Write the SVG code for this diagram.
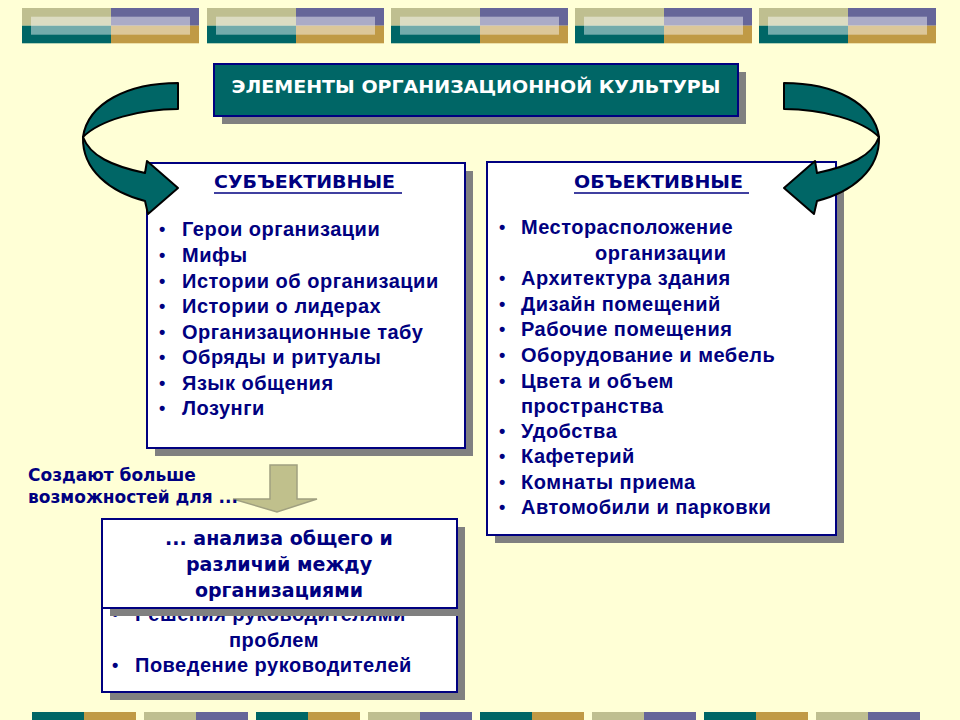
<svg xmlns="http://www.w3.org/2000/svg" width="960" height="720" viewBox="0 0 960 720">
<defs>
<style>
.item{font-family:"Liberation Sans",Arial,sans-serif;font-weight:bold;font-size:20px;letter-spacing:0.5px;fill:#000080}
.bul{font-family:"Liberation Sans",Arial,sans-serif;font-weight:bold;font-size:18px;fill:#000080}
.wide{font-family:"DejaVu Sans",Verdana,sans-serif;font-weight:bold;fill:#000080}
.box{fill:#fff;stroke:#000080;stroke-width:2}
.shadow{fill:#808080}
.ribbon{fill:#006666;stroke:#000;stroke-width:2;stroke-linejoin:round}
</style>
<g id="deco">
<rect x="0" y="0" width="89" height="17.7" fill="#BFBF90"/>
<rect x="89" y="0" width="88" height="17.7" fill="#666699"/>
<rect x="0" y="17.7" width="89" height="17.6" fill="#006666"/>
<rect x="89" y="17.7" width="88" height="17.6" fill="#C09A45"/>
<rect x="9" y="8.7" width="159" height="18" fill="#fff" fill-opacity="0.45"/>
</g>
<g id="arrowL">
<path class="ribbon" d="M178,83 C128,83 88,103 83,137 C100,120 140,109 178,109 Z"/>
<path class="ribbon" d="M83,137 C82,170 110,192 145,201 L148,214 L178,188 L147,161 L145,173 C112,166 90,156 83,137 Z"/>
</g>
</defs>
<rect x="0" y="0" width="960" height="720" fill="#FFFFD6"/>

<g id="top-decoration">
<use href="#deco" x="22" y="8"/>
<use href="#deco" x="207" y="8"/>
<use href="#deco" x="391" y="8"/>
<use href="#deco" x="575" y="8"/>
<use href="#deco" x="759" y="8"/>
</g>

<g id="bottom-decoration">
<rect x="32" y="712" width="52" height="8" fill="#006666"/><rect x="84" y="712" width="52" height="8" fill="#C09A45"/>
<rect x="144" y="712" width="52" height="8" fill="#BFBF90"/><rect x="196" y="712" width="52" height="8" fill="#666699"/>
<rect x="256" y="712" width="52" height="8" fill="#006666"/><rect x="308" y="712" width="52" height="8" fill="#C09A45"/>
<rect x="368" y="712" width="52" height="8" fill="#BFBF90"/><rect x="420" y="712" width="52" height="8" fill="#666699"/>
<rect x="480" y="712" width="52" height="8" fill="#006666"/><rect x="532" y="712" width="52" height="8" fill="#C09A45"/>
<rect x="592" y="712" width="52" height="8" fill="#BFBF90"/><rect x="644" y="712" width="52" height="8" fill="#666699"/>
<rect x="704" y="712" width="52" height="8" fill="#006666"/><rect x="756" y="712" width="52" height="8" fill="#C09A45"/>
<rect x="816" y="712" width="52" height="8" fill="#BFBF90"/><rect x="868" y="712" width="52" height="8" fill="#666699"/>
</g>

<g id="title">
<rect class="shadow" x="222" y="72" width="524" height="52"/>
<rect x="214" y="64" width="524" height="52" fill="#006666" stroke="#000080" stroke-width="2"/>
<text x="476" y="93" text-anchor="middle" font-family="DejaVu Sans, Verdana, sans-serif" font-weight="bold" font-size="18" fill="#fff" textLength="489" lengthAdjust="spacingAndGlyphs">ЭЛЕМЕНТЫ ОРГАНИЗАЦИОННОЙ КУЛЬТУРЫ</text>
</g>

<g id="subjective">
<rect class="shadow" x="155" y="171" width="318" height="285"/>
<rect class="box" x="147" y="163" width="318" height="285"/>
<text class="wide" x="214" y="188" font-size="17" textLength="181" lengthAdjust="spacingAndGlyphs">СУБЪЕКТИВНЫЕ</text>
<line x1="214" y1="193" x2="402" y2="193" stroke="#000080" stroke-width="1.5"/>
<g class="bul">
<text x="159" y="235">•</text><text x="159" y="261">•</text><text x="159" y="287">•</text><text x="159" y="312">•</text>
<text x="159" y="338">•</text><text x="159" y="363">•</text><text x="159" y="389">•</text><text x="159" y="414">•</text>
</g>
<g class="item">
<text x="182" y="236">Герои организации</text>
<text x="182" y="262">Мифы</text>
<text x="182" y="288">Истории об организации</text>
<text x="182" y="313">Истории о лидерах</text>
<text x="182" y="339">Организационные табу</text>
<text x="182" y="364">Обряды и ритуалы</text>
<text x="182" y="390">Язык общения</text>
<text x="182" y="415">Лозунги</text>
</g>
</g>

<g id="objective">
<rect class="shadow" x="495" y="170" width="349" height="373"/>
<rect class="box" x="487" y="162" width="349" height="373"/>
<text class="wide" x="574" y="188" font-size="17" textLength="169" lengthAdjust="spacingAndGlyphs">ОБЪЕКТИВНЫЕ</text>
<line x1="574" y1="193" x2="749" y2="193" stroke="#000080" stroke-width="1.5"/>
<g class="bul">
<text x="499" y="233">•</text><text x="499" y="284">•</text><text x="499" y="310">•</text><text x="499" y="335">•</text>
<text x="499" y="361">•</text><text x="499" y="387">•</text><text x="499" y="437">•</text><text x="499" y="462">•</text>
<text x="499" y="488">•</text><text x="499" y="513">•</text>
</g>
<g class="item">
<text x="521" y="234">Месторасположение</text>
<text x="595" y="260">организации</text>
<text x="521" y="285">Архитектура здания</text>
<text x="521" y="311">Дизайн помещений</text>
<text x="521" y="336">Рабочие помещения</text>
<text x="521" y="362">Оборудование и мебель</text>
<text x="521" y="388">Цвета и объем</text>
<text x="521" y="413">пространства</text>
<text x="521" y="438">Удобства</text>
<text x="521" y="463">Кафетерий</text>
<text x="521" y="489">Комнаты приема</text>
<text x="521" y="514">Автомобили и парковки</text>
</g>
</g>

<g id="connectors">
<use href="#arrowL"/>
<use href="#arrowL" transform="translate(962,0) scale(-1,1)"/>
<path d="M270,465 L297,465 L297,499 L317,499 L277,512 L233,499 L270,499 Z" fill="#C0C08C" stroke="#A0A080" stroke-width="1.5"/>
</g>

<g id="note">
<text class="wide" x="28" y="481" font-size="17">Создают больше</text>
<text class="wide" x="28" y="503" font-size="17">возможностей для ...</text>
</g>

<g id="managers">
<rect class="shadow" x="110" y="600" width="355" height="100"/>
<rect class="box" x="102" y="592" width="355" height="100"/>
<g class="bul">
<text x="112" y="620">•</text><text x="112" y="671">•</text>
</g>
<g class="item">
<text x="135" y="621">Решения руководителями</text>
<text x="274" y="647" text-anchor="middle">проблем</text>
<text x="135" y="672">Поведение руководителей</text>
</g>
</g>

<g id="analysis">
<rect class="shadow" x="110" y="527" width="355" height="89"/>
<rect class="box" x="102" y="519" width="355" height="89"/>
<g class="wide" font-size="19" text-anchor="middle">
<text x="279" y="545">... анализа общего и</text>
<text x="279" y="571">различий между</text>
<text x="279" y="597">организациями</text>
</g>
</g>
</svg>
